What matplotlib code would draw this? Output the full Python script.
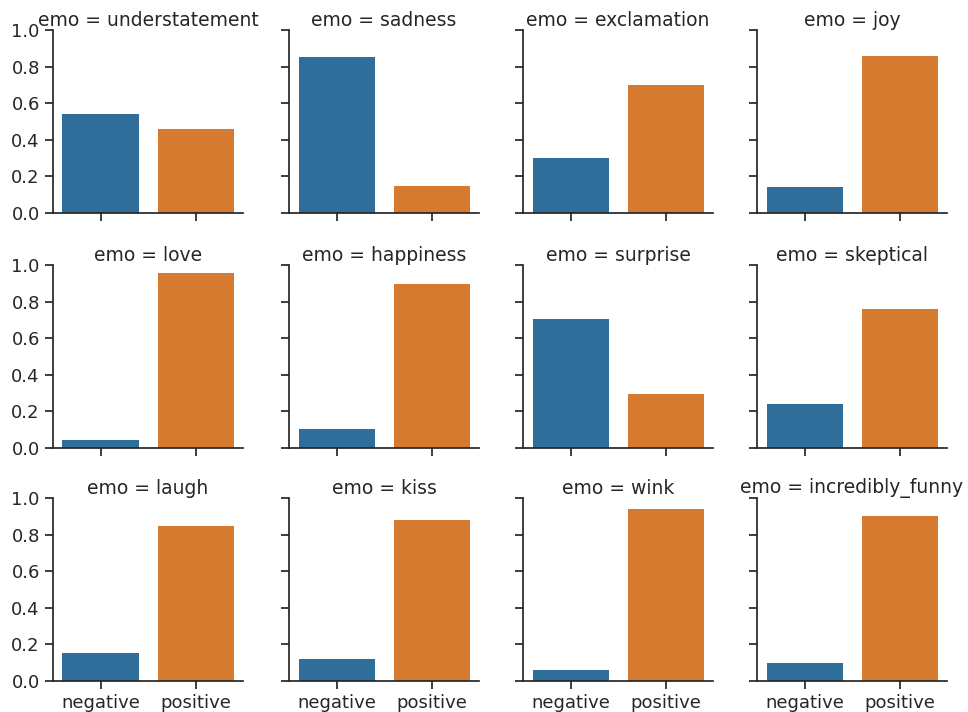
import matplotlib
matplotlib.use('Agg')
import matplotlib.pyplot as plt

# fraction of negative / positive per emoticon group
emos = ['understatement', 'sadness', 'exclamation', 'joy',
        'love', 'happiness', 'surprise', 'skeptical',
        'laugh', 'kiss', 'wink', 'incredibly_funny']
negative = [0.54, 0.85, 0.30, 0.14,
            0.044, 0.105, 0.705, 0.24,
            0.153, 0.12, 0.06, 0.10]
positive = [0.46, 0.15, 0.70, 0.86,
            0.956, 0.895, 0.295, 0.76,
            0.847, 0.88, 0.94, 0.90]
sentiments = ['negative', 'positive']
yticks = [0.0, 0.2, 0.4, 0.6, 0.8, 1.0]

colors = ['#2f6d9b', '#d67a2f']
text_color = '#262626'

plt.rcParams['font.family'] = ['DejaVu Sans']
plt.rcParams['axes.edgecolor'] = text_color
plt.rcParams['xtick.color'] = text_color
plt.rcParams['ytick.color'] = text_color

W, H = 968, 712
fig = plt.figure(figsize=(W / 100, H / 100), dpi=100)

col_left = [53, 289, 523, 757]
ax_w = 190
row_top = [30, 265, 498]
ax_h = 183

for i, emo in enumerate(emos):
    r, c = divmod(i, 4)
    ax = fig.add_axes([col_left[c] / W, 1 - (row_top[r] + ax_h) / H, ax_w / W, ax_h / H])
    ax.bar(range(len(sentiments)), [negative[i], positive[i]], width=0.8, color=colors)
    ax.set_xlim(-0.5, 1.5)
    ax.set_ylim(0, 1.0)
    ax.set_xticks(range(len(sentiments)))
    ax.set_yticks(yticks)
    if r == 2:
        ax.set_xticklabels(sentiments, fontsize=13)
    else:
        ax.set_xticklabels([])
    if c == 0:
        ax.set_yticklabels([f'{v:.1f}' for v in yticks], fontsize=13)
    else:
        ax.set_yticklabels([])
    ax.tick_params(length=6, width=1.25)
    for side in ['top', 'right']:
        ax.spines[side].set_visible(False)
    for side in ['left', 'bottom']:
        ax.spines[side].set_linewidth(1.25)
    ax.set_title(f'emo = {emo}', fontsize=13.5, color=text_color, pad=3)

fig.savefig('out.png', dpi=100)
